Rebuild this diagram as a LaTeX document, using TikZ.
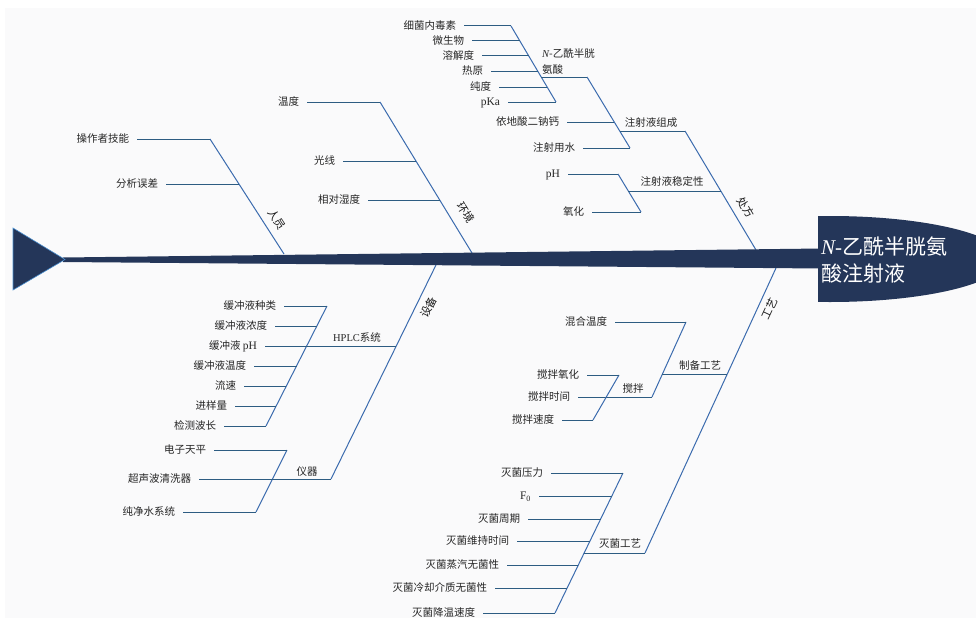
\documentclass[tikz,border=0pt]{standalone}
\usepackage{fontspec}
\setmainfont{Liberation Serif}
\newfontfamily\cjk{Noto Sans CJK SC}
\definecolor{navy}{HTML}{243659}
\definecolor{hline}{HTML}{2D5C82}
\definecolor{dline}{HTML}{3B6BAE}
\definecolor{bgc}{HTML}{FAFAFB}
\definecolor{tailedge}{HTML}{4A8FD0}
\newcommand\lat[1]{{\rmfamily\fontsize{11.5}{12}\selectfont #1}}
\tikzset{
  item/.style={anchor=east, inner xsep=8pt, inner ysep=1pt, outer sep=0pt,
    text height=8.5pt, text depth=1.5pt,
    font=\cjk\fontsize{10.5}{12}\selectfont, text=black!85},
  lbl/.style={inner sep=1pt, text height=8.5pt, text depth=1.5pt,
    font=\cjk\fontsize{10.5}{12}\selectfont, text=black!85},
  rlbl/.style={inner sep=0pt, text height=8.5pt, text depth=1.5pt,
    font=\cjk\fontsize{11}{12}\selectfont, text=black!90},
  hl/.style={draw=hline, line width=1pt},
  dl/.style={draw=dline, line width=1pt},
}
\begin{document}
\begin{tikzpicture}[x=1pt,y=-1pt]
\useasboundingbox (0,0) rectangle (976,618);
\fill[bgc] (5,8) rectangle (976,618);

% ---------- 人员 ----------
\coordinate (ryA) at (210,139); \coordinate (ryB) at (284,254);
\coordinate (ry1) at (239,184);
\draw[dl] (ryA) -- (ryB);
\node[item] (t-czz) at (137,139) {操作者技能};
\draw[hl] (t-czz.east) -- (ryA);
\node[item] (t-fx) at (166,184) {分析误差};
\draw[hl] (t-fx.east) -- (ry1);
\node[rlbl, rotate=-57.5] (l-ry) at (276.5,220) {人员};

% ---------- 环境 ----------
\coordinate (hjA) at (380,102); \coordinate (hjB) at (472,253);
\coordinate (hj1) at (416,161); \coordinate (hj2) at (440,200);
\draw[dl] (hjA) -- (hjB);
\node[item] (t-wd) at (307,102) {温度};
\draw[hl] (t-wd.east) -- (hjA);
\node[item] (t-gx) at (343,161) {光线};
\draw[hl] (t-gx.east) -- (hj1);
\node[item] (t-xdsd) at (368,200) {相对湿度};
\draw[hl] (t-xdsd.east) -- (hj2);
\node[rlbl, rotate=-58.6] (l-hj) at (465.5,213) {环境};

% ---------- 处方 ----------
\coordinate (cfA) at (685,131); \coordinate (cfB) at (756,250);
\coordinate (cf1) at (721,191);
\draw[dl] (cfA) -- (cfB);
\node[rlbl, rotate=-59] (l-cf) at (745,208) {处方};

% 注射液组成
\coordinate (zcA) at (587,77); \coordinate (zcB) at (630,148);
\coordinate (zc0) at (620,131); \coordinate (zc1) at (614,122);
\draw[dl] (zcA) -- (zcB);
\draw[hl] (zc0) -- (cfA);
\node[lbl] (l-zc) at (651,123) {注射液组成};
\node[item] (t-edta) at (567,122) {依地酸二钠钙};
\draw[hl] (t-edta.east) -- (zc1);
\node[item] (t-zsys) at (583,148) {注射用水};
\draw[hl] (t-zsys.east) -- (zcB);

% N-乙酰半胱氨酸
\coordinate (naA) at (511,26); \coordinate (naB) at (556,102);
\coordinate (na0) at (541,77);
\coordinate (na1) at (520,41); \coordinate (na2) at (529,56);
\coordinate (na3) at (538,71); \coordinate (na4) at (547,87);
\draw[dl] (naA) -- (naB);
\draw[hl] (na0) -- (zcA);
\node[anchor=west, align=left, inner sep=1pt, text=black!85,
  font=\cjk\fontsize{10.5}{16}\selectfont] (l-na) at (541,62)
  {{\rmfamily\itshape N}-乙酰半胱\\氨酸};
\node[item] (t-xj) at (464,26) {细菌内毒素};
\draw[hl] (t-xj.east) -- (naA);
\node[item] (t-wsw) at (472,41) {微生物};
\draw[hl] (t-wsw.east) -- (na1);
\node[item] (t-rjd) at (482,56) {溶解度};
\draw[hl] (t-rjd.east) -- (na2);
\node[item] (t-ry) at (491,71) {热原};
\draw[hl] (t-ry.east) -- (na3);
\node[item] (t-cd) at (499,87) {纯度};
\draw[hl] (t-cd.east) -- (na4);
\node[item] (t-pka) at (508,102) {\lat{pKa}};
\draw[hl] (t-pka.east) -- (naB);

% 注射液稳定性
\coordinate (wdA) at (618,174); \coordinate (wdB) at (641,212);
\coordinate (wd0) at (628,191);
\draw[dl] (wdA) -- (wdB);
\draw[hl] (wd0) -- (cf1);
\node[lbl] (l-wd) at (672,182) {注射液稳定性};
\node[item] (t-ph) at (568,174) {\lat{pH}};
\draw[hl] (t-ph.east) -- (wdA);
\node[item] (t-yh) at (592,212) {氧化};
\draw[hl] (t-yh.east) -- (wdB);

% ---------- 设备 ----------
\coordinate (sbA) at (436,265); \coordinate (sbB) at (331,479);
\coordinate (sb1) at (396,346);
\draw[dl] (sbA) -- (sbB);
\node[rlbl, rotate=64] (l-sb) at (429,307.5) {设备};

% HPLC系统
\coordinate (hpA) at (327,306); \coordinate (hpB) at (266,426);
\coordinate (hp2) at (317,326); \coordinate (hp4) at (296.5,366);
\coordinate (hp5) at (286.3,386); \coordinate (hp6) at (276.2,406);
\draw[dl] (hpA) -- (hpB);
\node[lbl] (l-hp) at (357,338) {{\rmfamily HPLC}系统};
\node[item] (t-hz1) at (284,306) {缓冲液种类};
\draw[hl] (t-hz1.east) -- (hpA);
\node[item] (t-hz2) at (275,326) {缓冲液浓度};
\draw[hl] (t-hz2.east) -- (hp2);
\node[item] (t-hz3) at (265,346) {缓冲液 \lat{pH}};
\draw[hl] (t-hz3.east) -- (sb1);
\node[item] (t-hz4) at (254,366) {缓冲液温度};
\draw[hl] (t-hz4.east) -- (hp4);
\node[item] (t-ls) at (244,386) {流速};
\draw[hl] (t-ls.east) -- (hp5);
\node[item] (t-jyl) at (235,406) {进样量};
\draw[hl] (t-jyl.east) -- (hp6);
\node[item] (t-jcbc) at (224,426) {检测波长};
\draw[hl] (t-jcbc.east) -- (hpB);

% 仪器
\coordinate (yqA) at (287,450); \coordinate (yqB) at (256,512);
\draw[dl] (yqA) -- (yqB);
\node[lbl] (l-yq) at (307,472) {仪器};
\node[item] (t-dztp) at (214,450) {电子天平};
\draw[hl] (t-dztp.east) -- (yqA);
\node[item] (t-csb) at (199,479) {超声波清洗器};
\draw[hl] (t-csb.east) -- (sbB);
\node[item] (t-cjs) at (183,512) {纯净水系统};
\draw[hl] (t-cjs.east) -- (yqB);

% ---------- 工艺 ----------
\coordinate (gyA) at (776,268); \coordinate (gyB) at (645,553);
\coordinate (gy1) at (727.3,374);
\draw[dl] (gyA) -- (gyB);
\node[rlbl, rotate=65] (l-gy) at (770,309.5) {工艺};

% 制备工艺
\coordinate (zbA) at (686,322); \coordinate (zbB) at (652,397);
\coordinate (zb0) at (662.4,374);
\draw[dl] (zbA) -- (zbB);
\draw[hl] (zb0) -- (gy1);
\node[lbl] (l-zb) at (700,366) {制备工艺};
\node[item] (t-hhwd) at (615,322) {混合温度};
\draw[hl] (t-hhwd.east) -- (zbA);
\node[item] (t-jbsj) at (578,397) {搅拌时间};
\draw[hl] (t-jbsj.east) -- (zbB);
\node[lbl] (l-jb) at (633,389) {搅拌};

% 搅拌
\coordinate (jbA) at (619,375); \coordinate (jbB) at (593,420);
\draw[dl] (jbA) -- (jbB);
\node[item] (t-jbyh) at (587,375) {搅拌氧化};
\draw[hl] (t-jbyh.east) -- (jbA);
\node[item] (t-jbsd) at (562,420) {搅拌速度};
\draw[hl] (t-jbsd.east) -- (jbB);

% 灭菌工艺
\coordinate (mjA) at (623,473); \coordinate (mjB) at (555,613);
\coordinate (mj0) at (584.1,553);
\coordinate (mj1) at (611.8,496); \coordinate (mj2) at (600.7,519);
\coordinate (mj3) at (590,541); \coordinate (mj5) at (578.3,565);
\coordinate (mj6) at (567.1,588);
\draw[dl] (mjA) -- (mjB);
\draw[hl] (mj0) -- (gyB);
\node[lbl] (l-mj) at (620,544) {灭菌工艺};
\node[item] (t-mj1) at (551,473) {灭菌压力};
\draw[hl] (t-mj1.east) -- (mjA);
\node[item] (t-f0) at (539,496) {\lat{F\textsubscript{0}}};
\draw[hl] (t-f0.east) -- (mj1);
\node[item] (t-mj2) at (528,519) {灭菌周期};
\draw[hl] (t-mj2.east) -- (mj2);
\node[item] (t-mj3) at (517,541) {灭菌维持时间};
\draw[hl] (t-mj3.east) -- (mj3);
\node[item] (t-mj5) at (507,565) {灭菌蒸汽无菌性};
\draw[hl] (t-mj5.east) -- (mj5);
\node[item] (t-mj6) at (495,588) {灭菌冷却介质无菌性};
\draw[hl] (t-mj6.east) -- (mj6);
\node[item] (t-mj7) at (483,613) {灭菌降温速度};
\draw[hl] (t-mj7.east) -- (mjB);

% ---------- spine, tail, head ----------
\fill[navy] (63,257.5) -- (822,248.5) -- (822,268.5) -- (63,262) -- cycle;
\filldraw[fill=navy, draw=tailedge, line width=0.6pt]
  (13,228) -- (65,259.5) -- (13,290) -- cycle;
\begin{scope}
  \clip (818,200) rectangle (976,320);
  \fill[navy] (830,259) ellipse [x radius=175pt, y radius=43pt];
\end{scope}
\node[anchor=west, align=left, text=white, inner sep=0pt,
  font=\cjk\fontsize{21}{27}\selectfont] (head) at (821,260)
  {{\rmfamily\itshape N}{\rmfamily -}乙酰半胱氨\\酸注射液};
\end{tikzpicture}
\end{document}
